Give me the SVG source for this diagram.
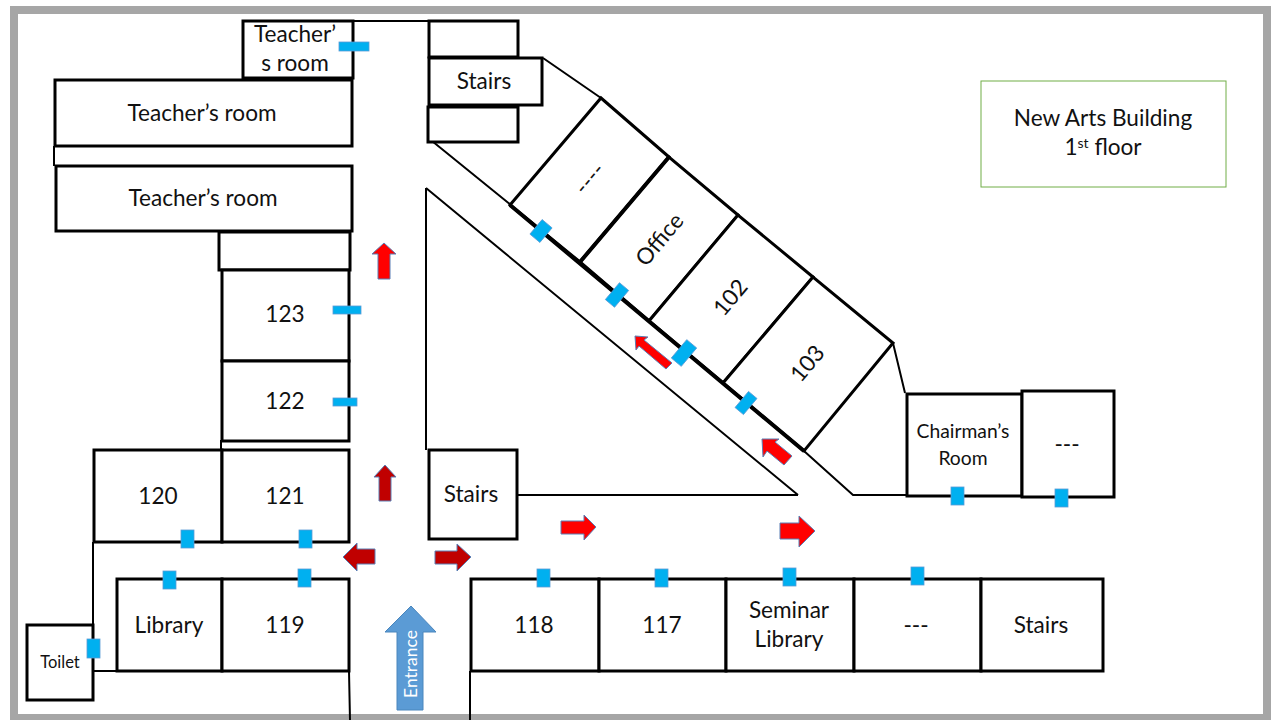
<svg xmlns="http://www.w3.org/2000/svg" width="1280" height="720" viewBox="0 0 1280 720">
<style>
.room{fill:#fff;stroke:#000;stroke-width:3}
.thick{fill:none;stroke:#000;stroke-width:4}
.thin{fill:none;stroke:#000;stroke-width:2}
.door{fill:#00b0f0;stroke:#5b9bd5;stroke-width:.8}
.red{fill:#f00;stroke:#5b7fb5;stroke-width:1}
.dark{fill:#c00000;stroke:#5b7fb5;stroke-width:1}
text{font-family:Lato,"Open Sans","Liberation Sans",sans-serif;font-size:22.600px;fill:#111;text-anchor:middle}
</style>
<rect x="14" y="10" width="1253" height="708" fill="#fff" stroke="#a6a6a6" stroke-width="8"/>
<g id="connectors">
<path class="thin" d="M352 21H428M93 542V625M94 671H116M349 671L350 720M470 671V720M543 58L601 98M432 141L511 205M426 188V450M426 188L798 495M517 495H798M804 451L853 495H906M893 343L905 393"/>
<path class="thin" d="M54 146V166M221 440V450"/>
</g>
<g id="teacher-small"><rect class="room" x="243" y="21" width="110" height="57"/><text x="295" y="42">Teacher’</text><text x="295" y="71">s room</text></g>
<g id="stair-a"><rect class="room" x="429" y="21" width="89" height="36"/></g>
<g id="stairs-top"><rect class="room" x="429" y="58" width="113" height="47"/><text x="484" y="89">Stairs</text></g>
<g id="stair-b"><rect class="room" x="428" y="107" width="90" height="35"/></g>
<g id="teacher-1"><rect class="room" x="55" y="80" width="297" height="66"/><text x="202" y="121">Teacher’s room</text></g>
<g id="teacher-2"><rect class="room" x="56" y="166" width="296" height="65"/><text x="203" y="206">Teacher’s room</text></g>
<g id="blank-room"><rect class="room" x="219" y="232" width="131" height="38"/></g>
<g id="r123"><rect class="room" x="222" y="270" width="127" height="91"/><text x="285" y="322">123</text></g>
<g id="r122"><rect class="room" x="222" y="361" width="127" height="80"/><text x="285" y="409">122</text></g>
<g id="r120"><rect class="room" x="94" y="450" width="128" height="92"/><text x="158" y="504">120</text></g>
<g id="r121"><rect class="room" x="222" y="450" width="127" height="92"/><text x="285" y="504">121</text></g>
<g id="stairs-mid"><rect class="room" x="429" y="450" width="88" height="89"/><text x="471" y="502">Stairs</text></g>
<g id="library"><rect class="room" x="117" y="579" width="105" height="92"/><text x="169" y="633">Library</text></g>
<g id="r119"><rect class="room" x="222" y="579" width="127" height="92"/><text x="285" y="633">119</text></g>
<g id="toilet"><rect class="room" x="27" y="625" width="66" height="75"/><text x="60" y="668" style="font-size:16.500px">Toilet</text></g>
<g id="r118"><rect class="room" x="471" y="579" width="128" height="92"/><text x="534" y="633">118</text></g>
<g id="r117"><rect class="room" x="599" y="579" width="127" height="92"/><text x="662" y="633">117</text></g>
<g id="seminar"><rect class="room" x="726" y="579" width="128" height="92"/><text x="789" y="618">Seminar</text><text x="789" y="647">Library</text></g>
<g id="blank-south"><rect class="room" x="854" y="579" width="127" height="92"/><text x="916" y="633">---</text></g>
<g id="stairs-east"><rect class="room" x="981" y="579" width="122" height="92"/><text x="1041" y="633">Stairs</text></g>
<g id="chairman"><rect class="room" x="907" y="394" width="115" height="102"/><text x="963" y="438" style="font-size:19.300px">Chairman’s</text><text x="963" y="465" style="font-size:19.300px">Room</text></g>
<g id="blank-east"><rect class="room" x="1022" y="391" width="92" height="106"/><text x="1067" y="452">---</text></g>
<g id="r-dash"><path class="room" d="M510 205L601 98L669 157L580 262Z"/><text transform="translate(590 179) rotate(-50)" y="7">----</text></g>
<g id="office"><path class="room" d="M580 262L669 157L738 215L649 321Z"/><text transform="translate(660 240) rotate(-50)" y="7">Office</text></g>
<g id="r102"><path class="room" d="M649 321L738 215L813 277L723 383Z"/><text transform="translate(731 298) rotate(-50)" y="7">102</text></g>
<g id="r103"><path class="room" d="M723 383L813 277L893 343L804 451Z"/><text transform="translate(808 364) rotate(-50)" y="7">103</text></g>
<path class="thick" d="M510 205L804 451M580 262L669 157"/>
<g id="doors">
<rect class="door" x="339" y="42" width="30" height="9"/>
<rect class="door" x="333" y="306" width="28" height="8"/>
<rect class="door" x="333" y="398" width="24" height="8"/>
<rect class="door" x="181" y="530" width="13" height="18"/>
<rect class="door" x="299" y="530" width="13" height="18"/>
<rect class="door" x="163" y="571" width="13" height="18"/>
<rect class="door" x="298" y="569" width="13" height="18"/>
<rect class="door" x="87" y="639" width="13" height="19"/>
<rect class="door" x="537" y="569" width="13" height="18"/>
<rect class="door" x="655" y="569" width="13" height="18"/>
<rect class="door" x="783" y="568" width="13" height="18"/>
<rect class="door" x="911" y="567" width="13" height="18"/>
<rect class="door" x="951" y="487" width="13" height="18"/>
<rect class="door" x="1055" y="489" width="13" height="18"/>
<rect class="door" x="-9.500" y="-6.500" width="19" height="13" transform="translate(541 231) rotate(-50)"/>
<rect class="door" x="-11" y="-6" width="22" height="12" transform="translate(617 295) rotate(-50)"/>
<rect class="door" x="-12" y="-6.500" width="24" height="13" transform="translate(684 353) rotate(-50)"/>
<rect class="door" x="-10.500" y="-5.500" width="21" height="11" transform="translate(746 403) rotate(-50)"/>
</g>
<g id="arrows">
<path class="red" d="M384 243L396 254H390V279H378V254H372Z"/>
<path class="dark" d="M385 465L396 477H391V501H379V477H374Z"/>
<path class="dark" d="M343 557L357 543V549H375V564H357V571Z"/>
<path class="dark" d="M471 557L457 544V551H435V564H457V571Z"/>
<path class="red" d="M596 527L584 515V521H561V534H584V540Z"/>
<path class="red" d="M815 531L799 516V523H780V539H799V547Z"/>
<path class="red" d="M635 336L648 337L644 340L672 363L666 369L639 346L636 350Z"/>
<path class="red" d="M762 439L779 439L775 442L792 456L784 465L767 451L763 457Z"/>
</g>
<g id="entrance">
<path d="M411 606L436 632H423V710H397V632H385Z" fill="#5b9bd5" stroke="#4a86bd"/>
<text transform="translate(411 664) rotate(-90)" y="6" style="fill:#fff;font-size:17.500px">Entrance</text>
</g>
<g id="title">
<rect x="981" y="81" width="245" height="106" fill="#fff" stroke="#70ad47"/>
<text x="1103" y="126">New Arts Building</text>
<text x="1103" y="155">1<tspan dy="-7" style="font-size:14px">st</tspan><tspan dy="7"> floor</tspan></text>
</g>
</svg>
